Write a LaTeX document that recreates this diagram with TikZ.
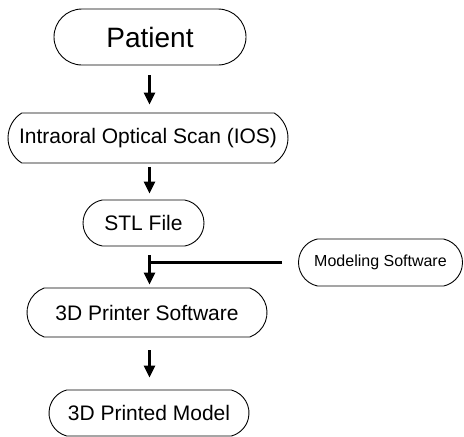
\documentclass[tikz,border=0pt]{standalone}
\usepackage{fontspec}
\setmainfont{Liberation Sans}
\usetikzlibrary{shapes.misc,arrows.meta}
\begin{document}
\begin{tikzpicture}[x=1pt,y=-1pt,
  box/.style={rounded rectangle,draw=black,line width=0.9pt,inner sep=0pt,
    font=\fontsize{21}{25}\selectfont},
  arr/.style={line width=2.4pt,-{Triangle[width=11pt,length=12pt]}},
  feed/.style={line width=2.2pt}]
\useasboundingbox (0,0) rectangle (464,437);
\node[box,minimum width=192pt,minimum height=56pt,rounded rectangle arc length=180,
  font=\fontsize{28}{32}\selectfont] (pat) at (150,37) {Patient};
\node[box,minimum width=280pt,minimum height=50pt,rounded rectangle arc length=115] (ios) at (148,138) {Intraoral Optical Scan (IOS)};
\node[box,minimum width=121pt,minimum height=46pt,rounded rectangle arc length=160] (stl) at (143.5,223) {STL File};
\node[box,minimum width=164pt,minimum height=47pt,rounded rectangle arc length=155,
  font=\fontsize{16}{19}\selectfont] (mod) at (380.5,262.5) {Modeling Software};
\node[box,minimum width=240pt,minimum height=49pt,rounded rectangle arc length=140] (ps) at (147,312.5) {3D Printer Software};
\node[box,minimum width=200pt,minimum height=46pt,rounded rectangle arc length=150] (pm) at (149,413) {3D Printed Model};
\coordinate (ax) at (149.5,0);
\draw[arr,shorten <=10pt,shorten >=8pt] (pat.south -| ax) -- (ios.north -| ax);
\draw[arr,shorten <=3.5pt,shorten >=6pt] (ios.south -| ax) -- (stl.north -| ax);
\draw[arr,shorten <=9pt,shorten >=3pt] (stl.south -| ax) -- (ps.north -| ax);
\draw[arr,shorten <=13pt,shorten >=12pt] (ps.south -| ax) -- (pm.north -| ax);
\draw[feed,shorten <=16pt] (mod.west) -- (mod.west -| ax);
\end{tikzpicture}
\end{document}
